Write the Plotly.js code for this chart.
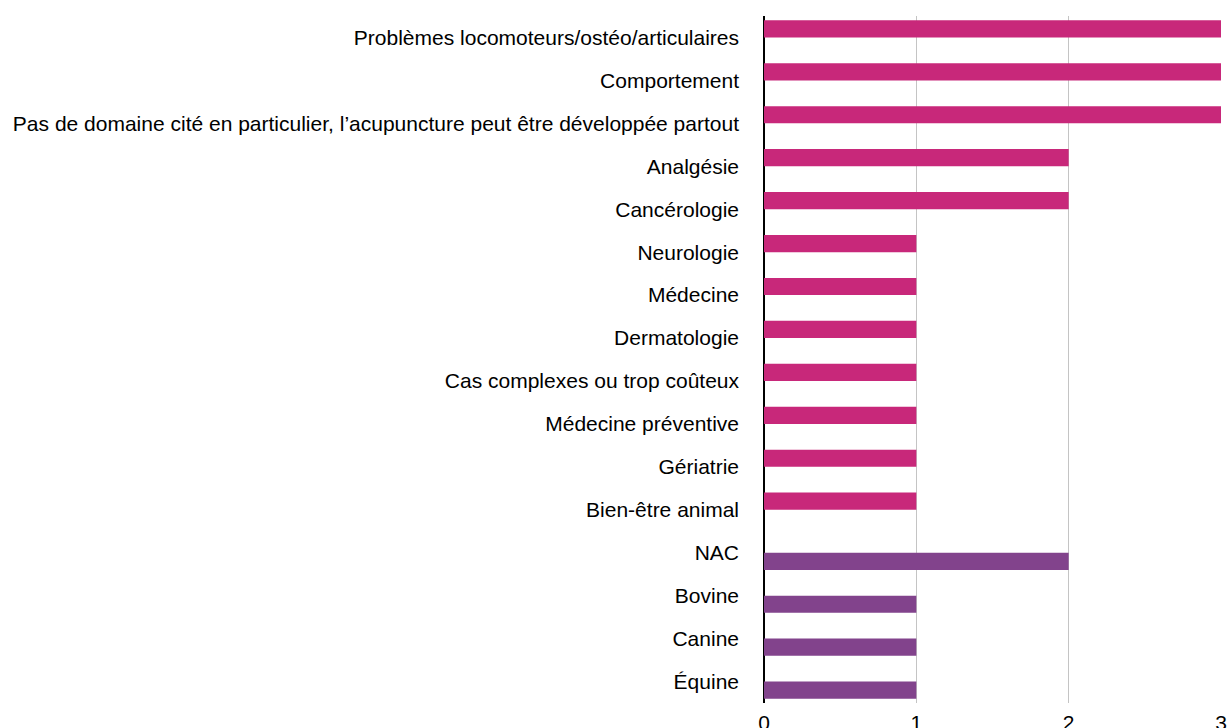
<!DOCTYPE html>
<html><head><meta charset="utf-8">
<script src="https://cdn.plot.ly/plotly-3.0.1.min.js"></script>
<style>html,body{margin:0;padding:0;background:#fff}#chart{width:1229px;height:728px}</style>
</head><body><div id="chart"></div>
<script>
const categories = [
  "Problèmes locomoteurs/ostéo/articulaires",
  "Comportement",
  "Pas de domaine cité en particulier, l’acupuncture peut être développée partout",
  "Analgésie",
  "Cancérologie",
  "Neurologie",
  "Médecine",
  "Dermatologie",
  "Cas complexes ou trop coûteux",
  "Médecine préventive",
  "Gériatrie",
  "Bien-être animal",
  "NAC",
  "Bovine",
  "Canine",
  "Équine"
];
const domainValues = [3, 3, 3, 2, 2, 1, 1, 1, 1, 1, 1, 1, null, null, null, null];
const speciesValues = [null, null, null, null, null, null, null, null, null, null, null, null, 2, 1, 1, 1];
const xTicks = [0, 1, 2, 3];

const traces = [
  {type: 'bar', orientation: 'h', y: categories, x: domainValues, name: 'Domaines',
   marker: {color: '#C8287A'}, hoverinfo: 'x+y'},
  {type: 'bar', orientation: 'h', y: categories, x: speciesValues, name: 'Espèces',
   marker: {color: '#82438C'}, hoverinfo: 'x+y'}
];
const layout = {
  width: 1229, height: 728,
  margin: {l: 764, r: 8, t: 16, b: 25, pad: 0},
  barmode: 'group', bargap: 0.2, bargroupgap: 0,
  showlegend: false,
  paper_bgcolor: '#fff', plot_bgcolor: '#fff',
  font: {family: 'Liberation Sans, Arial, sans-serif', size: 21, color: '#000'},
  xaxis: {range: [0, 3], tickvals: xTicks, ticktext: xTicks.map(String),
    showgrid: true, gridcolor: '#c4c4c4', gridwidth: 1,
    zeroline: true, zerolinecolor: '#000', zerolinewidth: 2,
    showline: false, ticks: '', ticklabelstandoff: 5, fixedrange: true,
    tickfont: {size: 21}},
  yaxis: {type: 'category', autorange: 'reversed', showgrid: false, zeroline: false,
    showline: false, ticks: '', ticklabelstandoff: 24, tickfont: {size: 21}},
};
Plotly.newPlot('chart', traces, layout, {displayModeBar: false, staticPlot: true});
</script></body></html>
